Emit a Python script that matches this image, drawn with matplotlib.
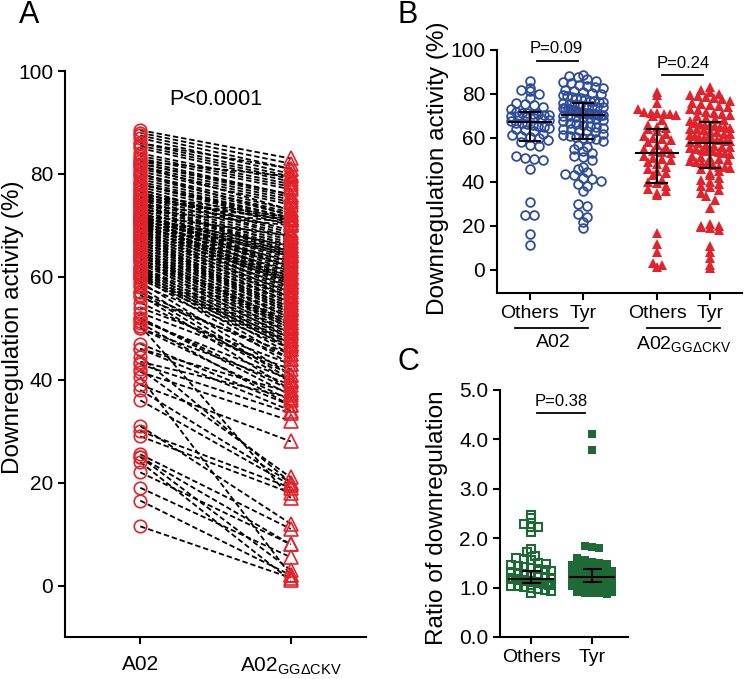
import numpy as np
import matplotlib
matplotlib.use("Agg")
import matplotlib.pyplot as plt

plt.rcParams["font.family"] = ["Liberation Sans", "DejaVu Sans"]
plt.rcParams["mathtext.fontset"] = "custom"
plt.rcParams["mathtext.rm"] = "Liberation Sans"

# ---- data ----
# A02 downregulation (%), peptides with "Others" C-terminal residue
a02_others = [86, 82.5, 82, 81.5, 80, 78, 76, 75.5, 75, 74, 73, 72, 71.5, 71.5, 71,
              71, 70.5, 70.5, 70, 70, 69.5, 69, 68.5, 68, 67.5, 67, 67, 66.5, 66, 65.5,
              65, 64.5, 64, 63.5, 63, 62, 61.5, 61, 60.5, 60, 59, 58, 57, 56.5, 52,
              51, 50.5, 50, 46, 31, 25, 25, 16.5, 11.5]
# A02GGdCKV downregulation (%), same peptides, same order (paired)
ckv_others = [81, 79.5, 76, 73, 72, 71.5, 71.5, 71, 71, 70.5, 70, 68, 66, 65, 64.5,
              64, 63, 62, 61, 60, 59.5, 59, 58, 57, 56, 55, 54, 53.5, 53, 52,
              51, 50.5, 50, 49, 48, 47, 46, 45, 44, 43, 41, 40, 39.5, 38, 37,
              35, 17, 36, 34, 12, 3, 8, 2, 1.5]
# A02 downregulation (%), peptides with Tyr
a02_tyr = [88.5, 88, 87.5, 87, 86, 85.5, 85, 84, 83.5, 83, 82.5, 82, 81.5, 81, 80.5,
           80, 79.5, 79, 78.5, 78, 78, 77.5, 77, 77, 76.5, 76.5,
           76, 75.5, 75, 75, 74.5, 74.5, 74, 74, 73.5, 73.5, 73, 73, 72.5, 72.5,
           72, 72, 72, 71.5, 71.5, 71.5, 71, 71, 71, 70.5, 70.5, 70.5,
           70, 70, 69.5, 69, 69, 68.5, 68, 67.5, 67, 66.5, 66, 65.5, 65, 64.5,
           64, 64, 63.5, 63, 62.5, 62, 61.5, 61, 60.5, 60, 60, 59.5,
           58.5, 57, 56, 55, 54, 53, 52, 51.5, 50, 47, 46, 44.5, 43.5, 43, 42,
           41.5, 40.5, 39, 38, 36, 30, 29, 25.5, 24, 22, 19]
ckv_tyr = [83, 82, 81, 80, 79.5, 79, 78.5, 78, 77.5, 77, 76, 75.5, 75, 74.5, 74,
           73, 72.5, 72, 71.5, 71, 70.5, 70, 69, 68.5, 68, 67.5,
           67, 66.5, 66, 66, 65.5, 65, 65, 64.5, 64, 64, 63.5, 63, 62.5, 62,
           62, 61.5, 61, 60.5, 60, 60, 59.5, 59, 59, 58.5, 58.5, 58,
           57.5, 57, 56.5, 56, 56, 55.5, 55, 54.5, 54, 54, 53.5, 53, 52.5, 52,
           51.5, 51, 50.5, 50, 49.5, 49, 48.5, 48, 47.5, 47, 47, 46.5,
           46, 44, 45, 41, 43, 42, 38, 40, 39, 35, 37.5, 20, 36.5, 33.5, 21,
           32, 2, 28, 20, 19.5, 19, 18, 11, 1, 8, 5.5]

# median and whiskers drawn in panel B: A02 Others, A02 Tyr, CKV Others, CKV Tyr
b_med = [67.3, 70.5, 53.3, 57.9]
b_lo = [58.6, 59.5, 39.7, 46.5]
b_hi = [71.8, 76.0, 64.0, 67.1]

# ratio of downregulation (panel C)
ratio_others = [2.47, 2.40, 2.28, 2.23, 2.22, 2.13, 1.78, 1.72, 1.64, 1.60, 1.57, 1.55,
                1.50, 1.48, 1.46, 1.44, 1.42, 1.40, 1.38, 1.35, 1.33, 1.31, 1.29, 1.27,
                1.25, 1.23, 1.21, 1.20, 1.19, 1.18, 1.17, 1.16, 1.15, 1.15, 1.14, 1.13,
                1.13, 1.12, 1.12, 1.11, 1.10, 1.09, 1.08, 1.07, 1.06, 1.05, 1.04, 1.03,
                1.02, 1.00, 0.98, 0.96, 0.93, 0.89]
ratio_tyr = [4.10, 3.78, 1.85, 1.82, 1.80, 1.60, 1.55, 1.52, 1.50, 1.48, 1.46, 1.45,
             1.44, 1.42, 1.40, 1.39, 1.38, 1.37, 1.36, 1.35, 1.34, 1.33, 1.32, 1.31,
             1.30, 1.29, 1.28, 1.28, 1.27, 1.27, 1.26, 1.26, 1.25, 1.25, 1.24, 1.24,
             1.23, 1.23, 1.23, 1.22, 1.22, 1.22, 1.22, 1.21, 1.21, 1.21, 1.20, 1.20,
             1.20, 1.19, 1.19, 1.19, 1.18, 1.18, 1.17, 1.17, 1.16, 1.16, 1.15, 1.15,
             1.15, 1.14, 1.14, 1.13, 1.13, 1.13, 1.12, 1.12, 1.12, 1.11, 1.11, 1.10,
             1.10, 1.09, 1.09, 1.08, 1.08, 1.07, 1.06, 1.06, 1.05, 1.05, 1.04, 1.04,
             1.03, 1.03, 1.02, 1.02, 1.01, 1.00, 1.00, 0.99, 0.98, 0.97, 0.96, 0.95,
             0.94, 0.93, 0.92, 0.91, 0.90, 0.89, 0.88, 0.87]
c_med = [1.17, 1.21]
c_lo = [1.10, 1.11]
c_hi = [1.33, 1.37]

RED = "#e3232b"
BLUE = "#2d4c9c"
GREEN = "#1e6a36"
ckv_label = "A02$_{\\mathregular{GGΔCKV}}$"


def swarm(values, center, bin_h, step, half_max):
    # simple row-wise scatter: points in the same value row are spread sideways
    v = np.asarray(values, float)
    x = np.full(len(v), float(center))
    rows = np.round(v / bin_h)
    for r in np.unique(rows):
        idx = np.where(rows == r)[0]
        n = len(idx)
        if n == 1:
            continue
        s = min(step, 2 * half_max / (n - 1))
        x[idx] = center + (np.arange(n) - (n - 1) / 2) * s
    return x


def style_axes(ax, ticksize):
    for side in ["top", "right"]:
        ax.spines[side].set_visible(False)
    for side in ["left", "bottom"]:
        ax.spines[side].set_linewidth(1.5)
    ax.tick_params(direction="out", width=1.5, length=5, labelsize=ticksize)


def errbar(ax, x, med, lo, hi, half, cap):
    ax.plot([x - half, x + half], [med, med], color="black", lw=1.5, zorder=5)
    ax.plot([x, x], [lo, hi], color="black", lw=1.5, zorder=5)
    ax.plot([x - cap, x + cap], [lo, lo], color="black", lw=1.5, zorder=5)
    ax.plot([x - cap, x + cap], [hi, hi], color="black", lw=1.5, zorder=5)


fig = plt.figure(figsize=(7.5, 6.79), dpi=100)

# ---------------- panel A ----------------
axA = fig.add_axes([0.0867, 0.0619, 0.4013, 0.8335])
a02_all = a02_others + a02_tyr
ckv_all = ckv_others + ckv_tyr
for a, c in zip(a02_all, ckv_all):
    axA.plot([0, 1], [a, c], color="black", lw=1.3, ls=(0, (3, 1.6)), zorder=2)
axA.plot(np.zeros(len(a02_all)), a02_all, "o", ms=9, mfc="none", mec=RED,
         mew=1.2, zorder=3, clip_on=False)
axA.plot(np.ones(len(ckv_all)), ckv_all, "^", ms=9.5, mfc="none", mec=RED,
         mew=1.2, zorder=3, clip_on=False)
axA.set_xlim(-0.5, 1.5)
axA.set_ylim(-10, 100)
axA.set_yticks([0, 20, 40, 60, 80, 100])
axA.set_xticks([0, 1])
axA.set_xticklabels(["A02", ckv_label])
style_axes(axA, 15)
axA.tick_params(axis="x", pad=8)
axA.text(0.5, 94.5, "P<0.0001", ha="center", va="center", fontsize=15.5)
fig.text(0.018, 0.518, "Downregulation activity (%)", rotation=90,
         ha="center", va="center", fontsize=17.5)
fig.text(0.039, 0.978, "A", ha="center", va="center", fontsize=22)

# ---------------- panel B ----------------
axB = fig.add_axes([0.6627, 0.5685, 0.3267, 0.3579])
pos = [0, 1, 2.4, 3.4]
xb = swarm(a02_others, pos[0], 3.0, 0.17, 0.36)
axB.plot(xb, a02_others, "o", ms=6.3, mfc="none", mec=BLUE, mew=1.3, zorder=3)
xb = swarm(a02_tyr, pos[1], 3.0, 0.17, 0.38)
axB.plot(xb, a02_tyr, "o", ms=6.3, mfc="none", mec=BLUE, mew=1.3, zorder=3)
xb = swarm(ckv_others, pos[2], 3.0, 0.17, 0.36)
axB.plot(xb, ckv_others, "^", ms=7, color=RED, mew=0, zorder=3)
xb = swarm(ckv_tyr, pos[3], 3.0, 0.17, 0.38)
axB.plot(xb, ckv_tyr, "^", ms=7, color=RED, mew=0, zorder=3)
for i in range(4):
    errbar(axB, pos[i], b_med[i], b_lo[i], b_hi[i], 0.4, 0.19)
axB.set_xlim(-0.62, 4.0)
axB.set_ylim(-10.5, 100)
axB.set_yticks([0, 20, 40, 60, 80, 100])
axB.set_xticks(pos)
axB.set_xticklabels(["Others", "Tyr", "Others", "Tyr"])
style_axes(axB, 15)
axB.tick_params(axis="x", labelsize=14)
axB.text(0.5, 100.5, "P=0.09", ha="center", va="center", fontsize=12, clip_on=False)
axB.plot([0.13, 0.9], [95, 95], color="black", lw=1.3, clip_on=False)
axB.text(2.9, 94, "P=0.24", ha="center", va="center", fontsize=12)
axB.plot([2.49, 3.26], [88.6, 88.6], color="black", lw=1.3)
trB = axB.get_xaxis_transform()
axB.plot([-0.28, 1.09], [-0.144, -0.144], color="black", lw=1.3,
         transform=trB, clip_on=False)
axB.plot([2.2, 3.58], [-0.144, -0.144], color="black", lw=1.3,
         transform=trB, clip_on=False)
axB.text(0.45, -0.205, "A02", ha="center", va="center", fontsize=14, transform=trB)
axB.text(2.9, -0.215, ckv_label, ha="center", va="center", fontsize=14,
         transform=trB)
fig.text(0.584, 0.752, "Downregulation activity (%)", rotation=90,
         ha="center", va="center", fontsize=17.5)
fig.text(0.543, 0.978, "B", ha="center", va="center", fontsize=22)

# ---------------- panel C ----------------
axC = fig.add_axes([0.6667, 0.0619, 0.1707, 0.3638])
xc = swarm(ratio_others, 0, 0.14, 0.12, 0.33)
axC.plot(xc, ratio_others, "s", ms=5.5, mfc="none", mec=GREEN, mew=1.5, zorder=3)
xc = swarm(ratio_tyr, 1, 0.14, 0.12, 0.33)
axC.plot(xc, ratio_tyr, "s", ms=5.5, color=GREEN, mew=0, zorder=3)
for i in range(2):
    errbar(axC, i, c_med[i], c_lo[i], c_hi[i], 0.36, 0.14)
axC.set_xlim(-0.51, 1.59)
axC.set_ylim(0, 5)
axC.set_yticks([0, 1, 2, 3, 4, 5])
axC.set_yticklabels(["0.0", "1.0", "2.0", "3.0", "4.0", "5.0"])
axC.set_xticks([0, 1])
axC.set_xticklabels(["Others", "Tyr"])
style_axes(axC, 15)
axC.tick_params(axis="x", labelsize=14)
axC.text(0.5, 4.76, "P=0.38", ha="center", va="center", fontsize=12)
axC.plot([0.1, 0.89], [4.53, 4.53], color="black", lw=1.3)
fig.text(0.583, 0.238, "Ratio of downregulation", rotation=90,
         ha="center", va="center", fontsize=17.5)
fig.text(0.545, 0.467, "C", ha="center", va="center", fontsize=22)

fig.savefig("out.png", dpi=100)
